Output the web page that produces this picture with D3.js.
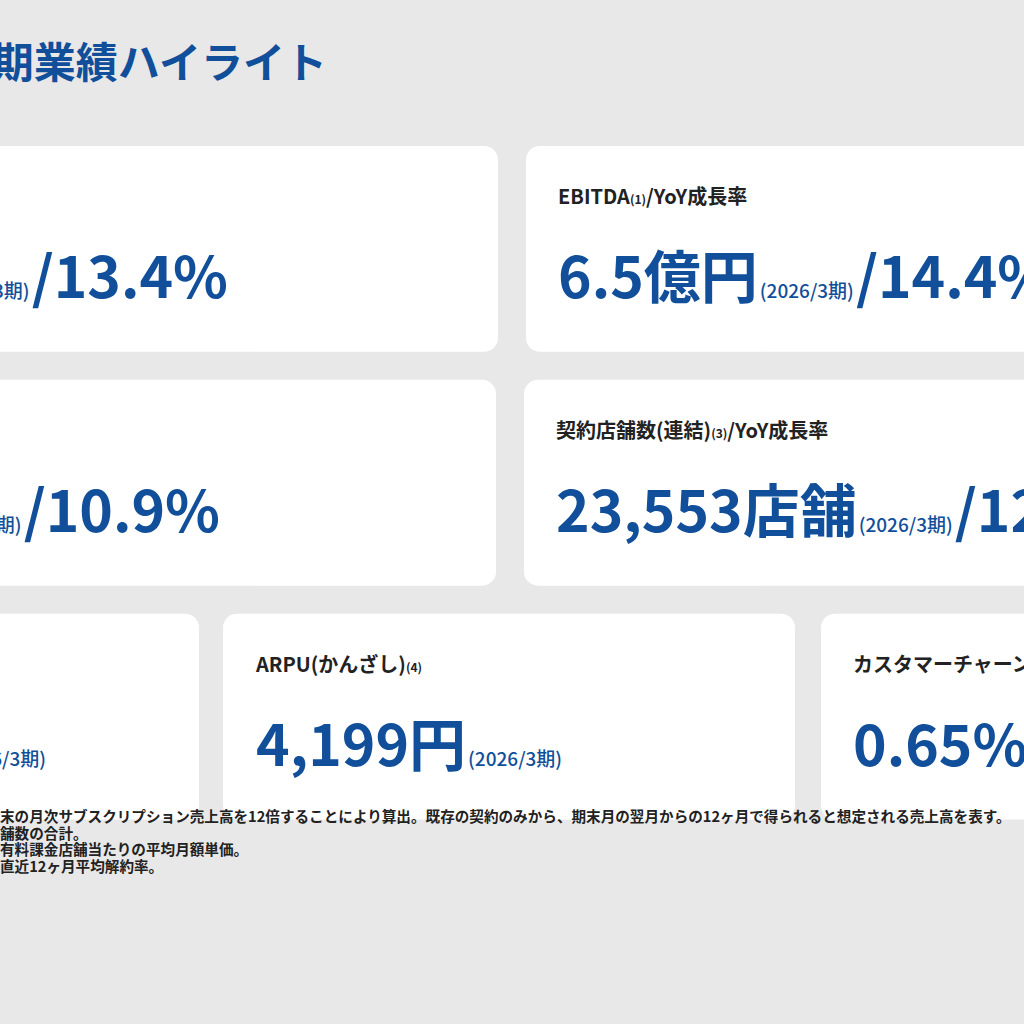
<!DOCTYPE html>
<html><head><meta charset="utf-8">
<script src="https://cdn.jsdelivr.net/npm/d3@7"></script>
<style>body{margin:0;background:#e8e8e8;overflow:hidden}svg{display:block}</style>
</head><body><svg width="1024" height="1024"></svg>
<script>
// KPIデータ
const labels = ["ARR", "EBITDA", "売上収益", "契約店舗数(連結)", "有料課金店舗数", "ARPU(かんざし)", "カスタマーチャーンレート"];
const notes = ["(2)", "(1)", "", "(3)", "", "(4)", "(5)"];
const suffix = ["/YoY成長率", "/YoY成長率", "/YoY成長率", "/YoY成長率", "", "", ""];
const values = ["23.1億円", "6.5億円", "38.2億円", "23,553店舗", "9,412店舗", "4,199円", "0.65%"];
const periods = ["(2026/3期)", "(2026/3期)", "(2026/3期)", "(2026/3期)", "(2026/3期)", "(2026/3期)", "(2026/3期)"];
const growth = ["/13.4%", "/14.4%", "/10.9%", "/12.8%", "", "", ""];
const footnotes = [
  "末の月次サブスクリプション売上高を12倍することにより算出。既存の契約のみから、期末月の翌月からの12ヶ月で得られると想定される売上高を表す。",
  "舗数の合計。",
  "有料課金店舗当たりの平均月額単価。",
  "直近12ヶ月平均解約率。"
];

const svg = d3.select("svg");
const blue = "#114f9a";
const font = "'Noto Sans CJK JP', 'Noto Sans', sans-serif";

svg.append("text").attr("x", 327).attr("y", 78).attr("text-anchor", "end")
  .attr("font-family", font).attr("font-weight", 700).attr("font-size", 42).attr("letter-spacing", 0)
  .attr("fill", blue).text("通期業績ハイライト");

// カードの配置
const rows = d3.scaleBand().domain([0, 1, 2]).range([146, 819.5]).paddingInner(0.12);
const boxes = [
  {row: 0, x0: -300, x1: 498, anchor: "end", tx: 228},
  {row: 0, x0: 526, x1: 1300, anchor: "start", tx: 558},
  {row: 1, x0: -300, x1: 496, anchor: "end", tx: 220},
  {row: 1, x0: 524, x1: 1300, anchor: "start", tx: 556},
  {row: 2, x0: -300, x1: 199, anchor: "end", tx: 46},
  {row: 2, x0: 223, x1: 795, anchor: "start", tx: 256},
  {row: 2, x0: 821, x1: 1300, anchor: "start", tx: 853}
];

boxes.forEach((b, i) => {
  const y = rows(b.row), h = rows.bandwidth();
  svg.append("rect").attr("x", b.x0).attr("y", y).attr("width", b.x1 - b.x0).attr("height", h)
    .attr("rx", 14).attr("fill", "#fff");
  // ラベル(左端のカードは画面外)
  const lx = b.anchor === "start" ? b.tx : b.x0 + 32;
  const lab = svg.append("text").attr("x", lx).attr("y", y + 58)
    .attr("font-family", font).attr("font-weight", 700).attr("font-size", 20).attr("fill", "#222");
  lab.append("tspan").text(labels[i]);
  if (notes[i]) lab.append("tspan").attr("font-size", 12).text(notes[i]);
  if (suffix[i]) lab.append("tspan").text(suffix[i]);
  // 値
  const v = svg.append("text").attr("x", b.tx).attr("y", y + 152).attr("text-anchor", b.anchor)
    .attr("font-family", font).attr("font-weight", 700).attr("fill", blue);
  v.append("tspan").attr("font-size", 57).text(values[i]);
  if (i !== 6) v.append("tspan").attr("font-size", 19).attr("font-weight", 500).attr("dx", 2).text(periods[i]);
  if (growth[i]) v.append("tspan").attr("font-size", 57).attr("dx", 2).text(growth[i]);
});

// 注記
svg.selectAll(".fn").data(footnotes).enter().append("text")
  .attr("x", 0).attr("y", (d, i) => 822 + i * 16.5)
  .attr("font-family", font).attr("font-weight", 700).attr("font-size", 14.6)
  .attr("fill", "#222").text(d => d);
</script></body></html>
